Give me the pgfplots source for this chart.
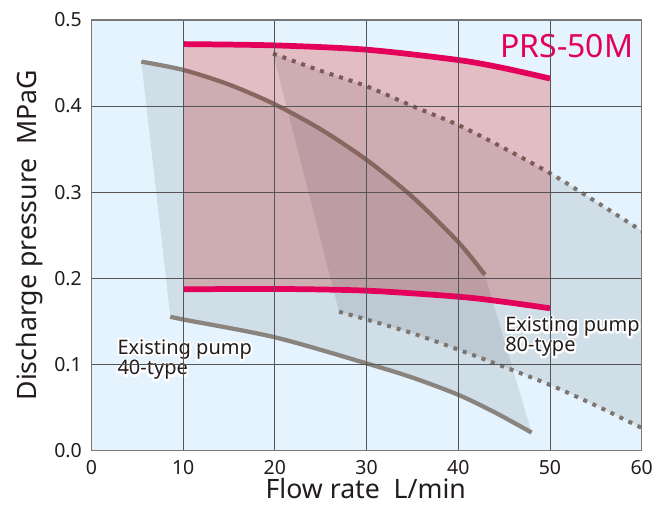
\documentclass[border=0pt]{standalone}
\usepackage{fontspec}
\setmainfont{Noto Sans}
\usepackage{pgfplots}
\pgfplotsset{compat=1.18}
\usepackage{pgfplotstable}
\usepgfplotslibrary{fillbetween}

\definecolor{bgblue}{RGB}{228,243,253}
\definecolor{prsred}{RGB}{228,0,90}
\definecolor{pinkmul}{RGB}{253,199,197}
\definecolor{gray40}{RGB}{138,132,126}
\definecolor{dotgray}{RGB}{125,117,112}
\definecolor{gridc}{RGB}{85,85,85}
\definecolor{framec}{RGB}{120,120,120}
\definecolor{txt}{RGB}{35,28,28}

\pgfplotstableread{
x y
10 0.472
20 0.4705
30 0.4655
40 0.4535
45 0.444
50 0.432
}\prsup
\pgfplotstableread{
x y
10 0.187
20 0.1875
30 0.1855
40 0.1785
45 0.1725
50 0.165
}\prslow
\pgfplotstableread{
x y
5.44 0.4516
10 0.442
15 0.425
20 0.402
25 0.373
30 0.3375
35 0.2945
40 0.242
42.9 0.204
}\fortyup
\pgfplotstableread{
x y
8.6 0.1553
10 0.152
20 0.1313
30 0.101
35 0.0845
40 0.0645
44 0.0440
48 0.0206
}\fortylow
\pgfplotstableread{
x y
19.8 0.461
25 0.441
30 0.423
35 0.400
40 0.378
45 0.351
50 0.322
55 0.289
60 0.255
}\eightyup
\pgfplotstableread{
x y
27.0 0.161
30 0.152
35 0.136
40 0.117
45 0.097
50 0.076
55 0.052
60 0.026
}\eightylow

\makeatletter
\newcommand{\strokeon}{\pgfsys@invoke{ 2 Tr 3 w 1 J 1 j }}
\newcommand{\strokeoff}{\pgfsys@invoke{ 0 Tr }}
\makeatother
\newcommand{\halotext}[2]{%
  \node[anchor=base west, text=white, inner sep=0pt, font=\fontsize{15}{18}\selectfont] at #1 {\strokeon#2\strokeoff};%
  \node[anchor=base west, text=txt, inner sep=0pt, font=\fontsize{15}{18}\selectfont] at #1 {#2};}

\begin{document}
\begin{tikzpicture}
\begin{axis}[
  at={(0,0)}, anchor=south west,
  scale only axis, width=412.6pt, height=322.7pt,
  xmin=0, xmax=60, ymin=0, ymax=0.5,
  xtick={0,10,20,30,40,50,60}, xticklabels={0,10,20,30,40,50,60},
  ytick={0,0.1,0.2,0.3,0.4,0.5}, yticklabels={0.0,0.1,0.2,0.3,0.4,0.5},
  grid=major, major grid style={gridc, line width=0.6pt},
  major tick length=0pt,
  axis line style={framec, line width=1pt},
  axis background/.style={fill=bgblue},
  set layers, axis on top,
  fill between/on layer=main,
  tick label style={font=\fontsize{14.6}{17}\selectfont, text=txt},
  xticklabel style={anchor=base, inner sep=0pt, yshift=-17.8pt},
  yticklabel style={anchor=east, inner sep=0pt, xshift=-7.1pt},
]
\addplot[draw=none, smooth, name path=u40] table {\fortyup};
\addplot[draw=none, smooth, name path=l40] table {\fortylow};
\addplot[draw=none, smooth, name path=u80] table {\eightyup};
\addplot[draw=none, smooth, name path=l80] table {\eightylow};
\addplot[draw=none, smooth, name path=uprs] table {\prsup};
\addplot[draw=none, smooth, name path=lprs] table {\prslow};

\addplot[fill=black, fill opacity=0.088, draw=none] fill between[of=u40 and l40];
\addplot[fill=black, fill opacity=0.088, draw=none] fill between[of=u80 and l80];

\addplot[gray40, line width=3.2pt, smooth] table {\fortyup};
\addplot[gray40, line width=3.2pt, smooth] table {\fortylow};
\addplot[dotgray, line width=3pt, dash pattern=on 3pt off 4.5pt, smooth] table {\eightyup};
\addplot[dotgray, line width=3pt, dash pattern=on 3pt off 4.5pt, smooth] table {\eightylow};

\addplot[fill=pinkmul, draw=none, blend mode=multiply] fill between[of=uprs and lprs];

\addplot[prsred, line width=4.3pt, smooth] table {\prsup};
\addplot[prsred, line width=4.3pt, smooth] table {\prslow};
\end{axis}

\node[anchor=base, text=txt, inner sep=0pt, font=\fontsize{20}{24}\selectfont] at (205.7pt,-36.3pt) {Flow rate\ \ L/min};
\node[rotate=90, anchor=base, text=txt, inner sep=0pt, font=\fontsize{20}{24}\selectfont] at (-41.6pt,161.4pt) {Discharge pressure\ \ MPaG};
\node[anchor=base east, text=prsred, inner sep=0pt, font=\fontsize{24}{28}\selectfont] at (406.4pt,294.5pt) {PRS-50M};

\halotext{(19.35pt,72.2pt)}{Existing pump}
\halotext{(19.35pt,56.5pt)}{40-type}
\halotext{(310.1pt,88.95pt)}{Existing pump}
\halotext{(310.1pt,73.95pt)}{80-type}

\pgfresetboundingbox
\path (-68.6pt,-41.8pt) rectangle (433.1pt,337.7pt);
\end{tikzpicture}
\end{document}
